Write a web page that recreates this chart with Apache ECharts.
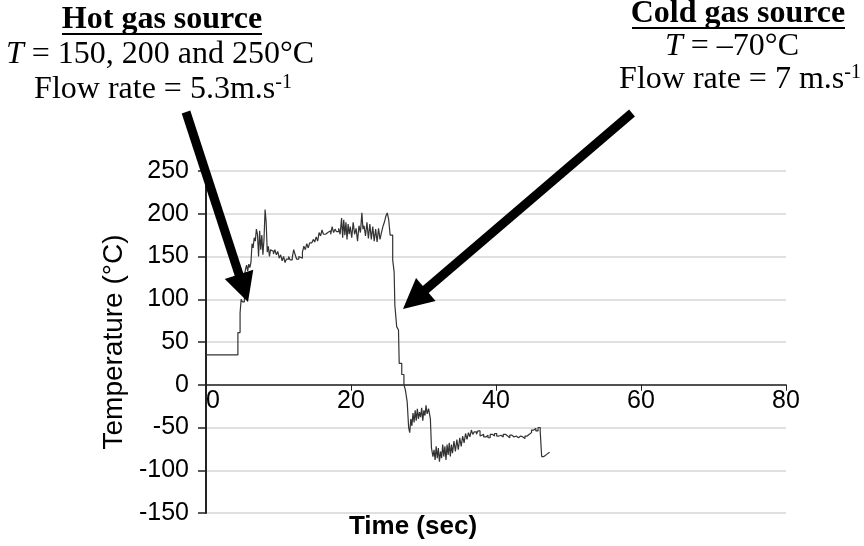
<!DOCTYPE html>
<html>
<head>
<meta charset="utf-8">
<script src="https://cdn.jsdelivr.net/npm/echarts@6/dist/echarts.min.js"></script>
<style>
html,body{margin:0;padding:0;background:#fff;}
#chart{width:864px;height:546px;}
</style>
</head>
<body>
<div id="chart"></div>
<script>
// Thermocouple trace: hot gas stream, then cold gas stream
const timeSec = [
  0, 4.4, 4.7, 4.85, 5.0, 5.3, 5.45, 5.6, 5.75, 5.9, 6.05, 6.2, 6.35, 6.5, 6.65, 6.8, 6.95, 7.1, 7.25, 7.4,
  7.55, 7.7, 7.85, 8.0, 8.15, 8.3, 8.45, 8.6, 8.75, 8.9, 9.05, 9.3, 9.5, 9.7, 9.9, 10.1, 10.3, 10.5, 10.7, 10.9,
  11.1, 11.4, 11.6, 11.9, 12.1, 12.3, 12.5, 12.8, 13.0, 13.3, 13.5, 13.7, 13.9, 14.1, 14.3, 14.6, 14.8, 15.0, 15.2, 15.4,
  15.6, 15.8, 16.0, 16.2, 16.5, 16.8, 17.0, 17.2, 17.4, 17.6, 17.8, 18.0, 18.3, 18.5, 18.7, 18.85, 19.0, 19.15, 19.3, 19.45,
  19.6, 19.75, 19.9, 20.1, 20.3, 20.5, 20.7, 20.9, 21.1, 21.3, 21.5, 21.65, 21.8, 22.0, 22.2, 22.4, 22.6, 22.8, 23.0, 23.2,
  23.4, 23.6, 23.8, 24.0, 24.2, 24.4, 24.6, 24.8, 25.0, 25.2, 25.4, 25.75, 25.95, 26.05, 26.3, 26.55, 26.65, 27.0, 27.3, 27.5,
  27.75, 27.95, 28.1, 28.25, 28.4, 28.55, 28.7, 28.85, 29.0, 29.15, 29.3, 29.45, 29.6, 29.75, 29.9, 30.05, 30.2, 30.35, 30.5, 30.7,
  30.95, 31.1, 31.3, 31.45, 31.6, 31.75, 31.9, 32.05, 32.2, 32.35, 32.5, 32.65, 32.8, 32.95, 33.1, 33.25, 33.4, 33.55, 33.7, 33.85,
  34.0, 34.2, 34.4, 34.6, 34.8, 35.0, 35.2, 35.4, 35.6, 35.8, 36.0, 36.2, 36.4, 36.6, 36.8, 37.0, 37.3, 37.5, 37.8, 38.0,
  38.3, 38.6, 38.9, 39.2, 39.5, 39.8, 40.1, 40.4, 40.7, 41.0, 41.3, 41.6, 41.9, 42.2, 42.5, 42.8, 43.1, 43.4, 43.7, 44.0,
  44.3, 44.6, 44.9, 45.2, 45.5, 45.8, 46.1, 46.3, 46.6, 46.9, 47.2, 47.4
];
const tempC = [
  35, 61, 84, 100, 97, 128, 135, 140, 133, 141, 137, 143, 165, 160, 172, 168, 182, 176, 150, 180,
  158, 175, 152, 170, 205, 190, 155, 162, 150, 158, 156, 153, 158, 152, 156, 148, 152, 145, 150, 143,
  147, 150, 146, 149, 158, 152, 147, 150, 148, 155, 162, 158, 165, 160, 166, 164, 170, 167, 173, 168,
  178, 174, 181, 176, 178, 177, 180, 176, 185, 178, 182, 179, 183, 176, 195, 172, 193, 175, 190, 170,
  188, 176, 185, 172, 190, 176, 183, 168, 186, 178, 201, 182, 186, 174, 190, 171, 188, 170, 185, 168,
  182, 167, 183, 170, 178, 185, 190, 197, 201, 193, 175, 146, 132, 93, 68, 64, 25, 12, 0, -6,
  -20, -50, -56, -40, -48, -33, -44, -30, -42, -28, -40, -32, -38, -27, -42, -30, -36, -24, -34, -28,
  -40, -74, -84, -76, -88, -72, -86, -74, -90, -78, -86, -70, -84, -72, -88, -70, -82, -68, -84, -70,
  -80, -66, -78, -64, -76, -62, -72, -60, -68, -57, -64, -56, -61, -53, -58, -55, -58, -54, -60, -58,
  -61, -59, -62, -58, -60, -57, -60, -59, -61, -58, -60, -62, -59, -61, -60, -62, -60, -61, -63, -60,
  -58, -56, -53, -51, -54, -50, -55, -84, -82, -80, -79, -79
];
const xTicks = { min: 0, max: 80, step: 20 };
const yTicks = { min: -150, max: 250, step: 50 };

const trace = timeSec.map((t, i) => [t, tempC[i]]);

const serif = '"Liberation Serif", "Times New Roman", serif';
const sans = '"Liberation Sans", Arial, sans-serif';

const W = 864, H = 546;
const grid = { left: 206, right: 78, top: 171, bottom: 33 };
// the time axis sits on the 0 °C line, labels included
const plotH = H - grid.top - grid.bottom;
const xAxisOffset = -((0 - yTicks.min) / (yTicks.max - yTicks.min)) * plotH;

const chart = echarts.init(document.getElementById('chart'), null, { renderer: 'canvas' });

function arrow(x1, y1, x2, y2, w, headLen, headHalf) {
  // straight shaft plus a filled triangular head at (x2, y2)
  const dx = x2 - x1, dy = y2 - y1;
  const len = Math.sqrt(dx * dx + dy * dy);
  const ux = dx / len, uy = dy / len;
  const bx = x2 - ux * headLen, by = y2 - uy * headLen;
  const px = -uy, py = ux;
  return [
    { type: 'line', shape: { x1: x1, y1: y1, x2: bx + ux * 2, y2: by + uy * 2 },
      style: { stroke: '#000', lineWidth: w }, z: 10 },
    { type: 'polygon', shape: { points: [[x2, y2], [bx + px * headHalf, by + py * headHalf], [bx - px * headHalf, by - py * headHalf]] },
      style: { fill: '#000' }, z: 10 }
  ];
}

const sup = { fontSize: 20, fontFamily: serif, padding: [0, 0, 15, 0] };
const italicT = { fontStyle: 'italic', fontSize: 32, fontFamily: serif };

chart.setOption({
  animation: false,
  backgroundColor: '#fff',
  grid: { left: grid.left, right: grid.right, top: grid.top, bottom: grid.bottom, containLabel: false },
  xAxis: {
    type: 'value', min: xTicks.min, max: xTicks.max, interval: xTicks.step,
    offset: xAxisOffset,
    axisLine: { onZero: false, lineStyle: { color: '#222', width: 1.5 } },
    axisTick: { show: true, length: 6, lineStyle: { color: '#222', width: 1 } },
    axisLabel: { color: '#000', fontFamily: sans, fontSize: 25, margin: 4, alignMinLabel: 'left' },
    splitLine: { show: false }
  },
  yAxis: {
    type: 'value', min: yTicks.min, max: yTicks.max, interval: yTicks.step,
    name: 'Temperature (\u00B0C)', nameLocation: 'middle', nameGap: 74, nameRotate: 90,
    nameTextStyle: { color: '#000', fontFamily: sans, fontSize: 28 },
    axisLine: { show: true, onZero: false, lineStyle: { color: '#222', width: 2 } },
    axisTick: { show: true, length: 8, lineStyle: { color: '#222', width: 1.5 } },
    axisLabel: { color: '#000', fontFamily: sans, fontSize: 25, margin: 17 },
    splitLine: { show: true, lineStyle: { color: '#d6d6d6', width: 1.5 } }
  },
  series: [{
    type: 'line', data: trace, step: 'end', showSymbol: false, symbol: 'none',
    lineStyle: { color: '#333', width: 1.2 }, z: 3
  }],
  graphic: [
    { type: 'text', x: 413, y: 527, style: { text: 'Time (sec)', font: 'bold 26px ' + sans, fill: '#000', align: 'center', verticalAlign: 'middle' } },
    { type: 'text', x: 162, y: 20, style: { text: 'Hot gas source', font: 'bold 32px ' + serif, fill: '#000', align: 'center', verticalAlign: 'middle' } },
    { type: 'line', shape: { x1: 62, y1: 34, x2: 262, y2: 34 }, style: { stroke: '#000', lineWidth: 2 } },
    { type: 'text', x: 160, y: 55, style: {
        text: '{it|T} = 150, 200 and 250\u00B0C', font: '32px ' + serif, fill: '#000', align: 'center', verticalAlign: 'middle',
        rich: { it: italicT } } },
    { type: 'text', x: 163, y: 90, style: {
        text: 'Flow rate = 5.3m.s{s|-1}', font: '32px ' + serif, fill: '#000', align: 'center', verticalAlign: 'middle',
        rich: { s: sup } } },
    { type: 'text', x: 738, y: 14, style: { text: 'Cold gas source', font: 'bold 32px ' + serif, fill: '#000', align: 'center', verticalAlign: 'middle' } },
    { type: 'line', shape: { x1: 632, y1: 28, x2: 845, y2: 28 }, style: { stroke: '#000', lineWidth: 2 } },
    { type: 'text', x: 732, y: 47, style: {
        text: '{it|T} = \u201370\u00B0C', font: '32px ' + serif, fill: '#000', align: 'center', verticalAlign: 'middle',
        rich: { it: italicT } } },
    { type: 'text', x: 740, y: 80, style: {
        text: 'Flow rate = 7 m.s{s|-1}', font: '32px ' + serif, fill: '#000', align: 'center', verticalAlign: 'middle',
        rich: { s: sup } } }
  ].concat(arrow(186, 112, 248, 302, 9, 29, 15), arrow(632, 113, 403, 309, 9, 30, 15))
});
</script>
</body>
</html>
